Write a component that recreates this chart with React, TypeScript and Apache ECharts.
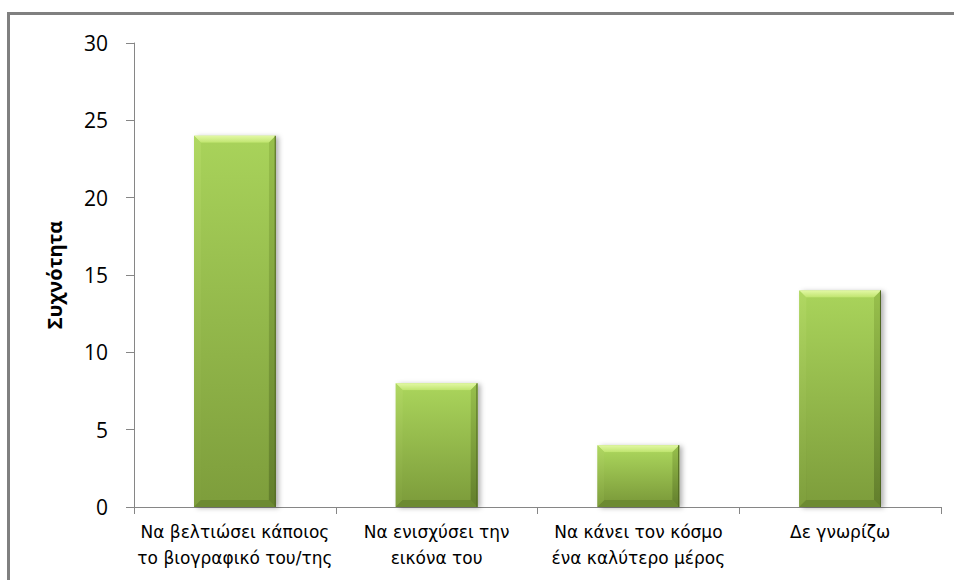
import React, { useEffect, useRef } from "react";
import * as echarts from "echarts";

const categories: string[] = [
  "Να βελτιώσει κάποιος\nτο βιογραφικό του/της",
  "Να ενισχύσει την\nεικόνα του",
  "Να κάνει τον κόσμο\nένα καλύτερο μέρος",
  "Δε γνωρίζω",
];
const values: number[] = [24, 8, 4, 14];
const yTicks = { min: 0, max: 30, interval: 5 };
const yAxisName = "Συχνότητα";

export default function App() {
  const ref = useRef<HTMLDivElement>(null);
  useEffect(() => {
    document.body.style.margin = "0";
    const chart = echarts.init(ref.current!, null, { renderer: "svg" });
    const bevel = 7;
    chart.setOption({
      animation: false,
      backgroundColor: "#ffffff",
      grid: { left: 134, right: 13, top: 43, bottom: 73, containLabel: false },
      graphic: [
        { type: "rect", shape: { x: 7, y: 12, width: 960, height: 3 }, style: { fill: "#808080" }, z: 100 },
        { type: "rect", shape: { x: 7, y: 12, width: 3, height: 580 }, style: { fill: "#808080" }, z: 100 },
      ],
      xAxis: {
        type: "category",
        data: categories,
        axisLine: { lineStyle: { color: "#868686", width: 1 } },
        axisTick: { show: true, length: 7, lineStyle: { color: "#868686" } },
        axisLabel: {
          color: "#000",
          fontSize: 17,
          lineHeight: 26,
          margin: 12,
          fontFamily: "DejaVu Sans",
          interval: 0,
        },
      },
      yAxis: {
        type: "value",
        min: yTicks.min,
        max: yTicks.max,
        interval: yTicks.interval,
        name: yAxisName,
        nameLocation: "middle",
        nameRotate: 90,
        nameGap: 70,
        nameTextStyle: { fontSize: 20, fontWeight: "bold", color: "#000", fontFamily: "Open Sans" },
        splitLine: { show: false },
        axisLine: { show: true, lineStyle: { color: "#868686", width: 1 } },
        axisTick: { show: true, length: 8, lineStyle: { color: "#868686" } },
        axisLabel: { color: "#000", fontSize: 21, margin: 26, fontFamily: "Open Sans" },
      },
      series: [
        {
          type: "custom",
          data: values.map((v, i) => [i, v]),
          encode: { x: 0, y: 1 },
          renderItem: (params: any, api: any) => {
            const idx = api.value(0);
            const val = api.value(1);
            const top = api.coord([idx, val]);
            const base = api.coord([idx, 0]);
            const bw = api.size([1, 0])[0] * 0.405;
            const x = top[0] - bw / 2;
            const y = top[1];
            const h = base[1] - top[1];
            const b = Math.min(bevel, h / 2);
            const grad = (c1: string, c2: string) =>
              new echarts.graphic.LinearGradient(0, 0, 0, 1, [
                { offset: 0, color: c1 },
                { offset: 1, color: c2 },
              ]);
            return {
              type: "group",
              children: [
                {
                  type: "rect",
                  shape: { x, y, width: bw, height: h },
                  style: {
                    fill: grad("#b0da60", "#6f8c32"),
                    shadowColor: "rgba(0,0,0,0.3)",
                    shadowBlur: 5,
                    shadowOffsetX: 3,
                    shadowOffsetY: 1,
                  },
                },
                {
                  type: "polygon",
                  shape: { points: [[x, y], [x + bw, y], [x + bw - b, y + b], [x + b, y + b]] },
                  style: { fill: grad("#e2f8a4", "#bfe46e") },
                },
                {
                  type: "polygon",
                  shape: { points: [[x, y], [x + b, y + b], [x + b, y + h - b], [x, y + h]] },
                  style: { fill: grad("#b0d862", "#7e9e3c") },
                },
                {
                  type: "polygon",
                  shape: { points: [[x + bw, y], [x + bw, y + h], [x + bw - b, y + h - b], [x + bw - b, y + b]] },
                  style: { fill: grad("#98c04c", "#627e2c") },
                },
                {
                  type: "polygon",
                  shape: { points: [[x, y + h], [x + b, y + h - b], [x + bw - b, y + h - b], [x + bw, y + h]] },
                  style: { fill: "#6c8a32" },
                },
                {
                  type: "rect",
                  shape: { x: x + b, y: y + b, width: bw - 2 * b, height: h - 2 * b },
                  style: { fill: grad("#a8d25a", "#7e9e3c") },
                },
                {
                  type: "line",
                  shape: { x1: x + bw - 0.5, y1: y, x2: x + bw - 0.5, y2: y + h },
                  style: { stroke: "#4f6622", lineWidth: 1 },
                },
              ],
            };
          },
        },
      ],
    });
    return () => chart.dispose();
  }, []);
  return <div ref={ref} style={{ width: 954, height: 580 }} />;
}
